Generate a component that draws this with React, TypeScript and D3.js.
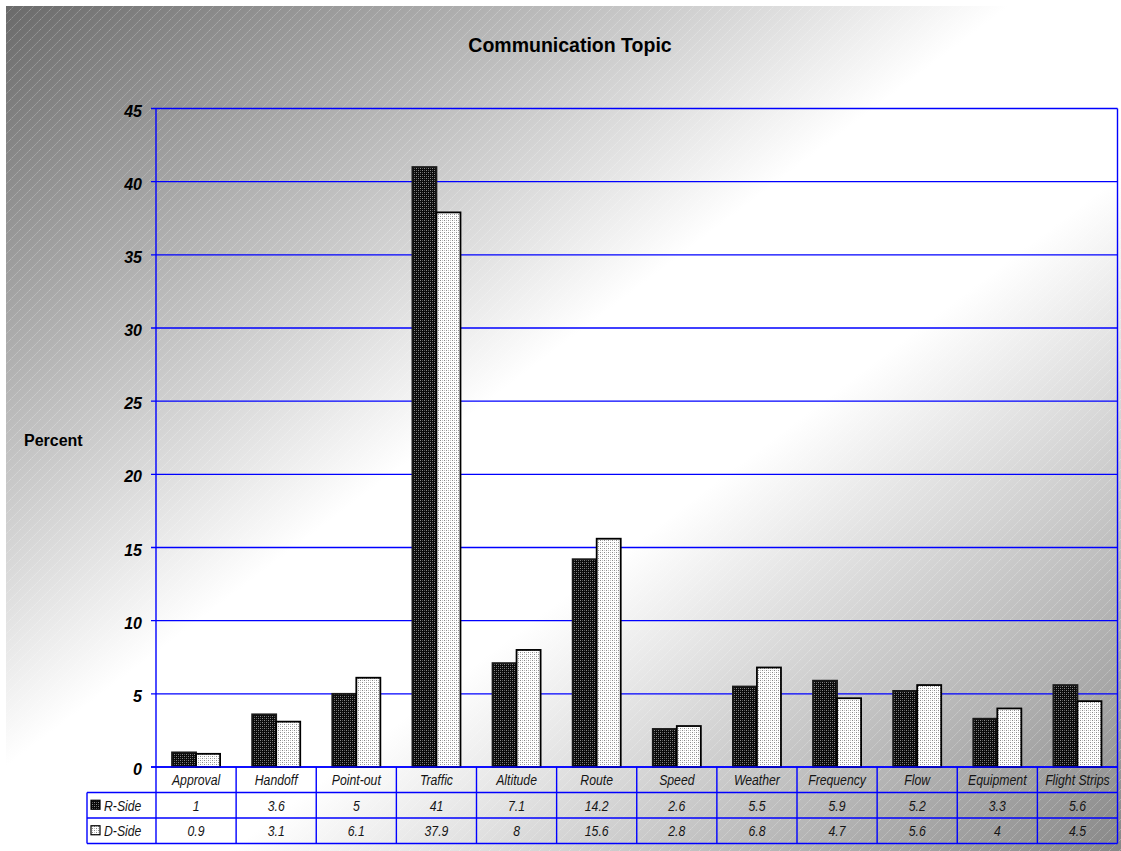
import React from "react";
import * as d3 from "d3";

// Communication topic shares (percent) for R-Side and D-Side controllers
const categories = [
  "Approval", "Handoff", "Point-out", "Traffic", "Altitude", "Route",
  "Speed", "Weather", "Frequency", "Flow", "Equipment", "Flight Strips",
];
const rSide = [1, 3.6, 5, 41, 7.1, 14.2, 2.6, 5.5, 5.9, 5.2, 3.3, 5.6];
const dSide = [0.9, 3.1, 6.1, 37.9, 8, 15.6, 2.8, 6.8, 4.7, 5.6, 4, 4.5];
const seriesNames = ["R-Side", "D-Side"];
const yTicks = [0, 5, 10, 15, 20, 25, 30, 35, 40, 45];

const W = 1121;
const H = 851;
const plot = { left: 156, right: 1117.5, top: 108.5, bottom: 767 };
const tableRows = { cat: 767, r: 792.5, d: 818, bottom: 843.5 };
const legendLeft = 87;
const BLUE = "#0000ff";
const SANS = "'Liberation Sans', Arial, Helvetica, sans-serif";
// table text is set in a condensed face: regular sans squeezed horizontally
const CONDENSE = 0.79;

function NarrowText(props: { x: number; y: number; anchor?: string; children: React.ReactNode }) {
  return (
    <text
      transform={`translate(${props.x},${props.y}) scale(${CONDENSE},1)`}
      textAnchor={props.anchor ?? "middle"}
      fontFamily={SANS}
      fontStyle="italic"
      fontSize={15.5}
      fill="#151515"
    >
      {props.children}
    </text>
  );
}

export default function App() {
  const x = d3
    .scaleBand<string>()
    .domain(categories)
    .range([plot.left, plot.right])
    .paddingInner(0.4)
    .paddingOuter(0.2);
  const xSeries = d3.scaleBand<string>().domain(seriesNames).range([0, x.bandwidth()]);
  const y = d3.scaleLinear().domain([0, 45]).range([plot.bottom, plot.top]);
  const step = x.step();
  const colEdges = d3.range(categories.length + 1).map((i) => plot.left + i * step);

  const series = [
    { name: "R-Side", values: rSide, fill: "url(#darkDots)", stroke: "#1a1a1a" },
    { name: "D-Side", values: dSide, fill: "url(#lightDots)", stroke: "#000" },
  ];

  const rowMid = [
    (tableRows.cat + tableRows.r) / 2,
    (tableRows.r + tableRows.d) / 2,
    (tableRows.d + tableRows.bottom) / 2,
  ];

  return (
    <svg
      width={W}
      height={H}
      style={{ position: "absolute", left: 0, top: 0, display: "block" }}
    >
      <defs>
        <linearGradient id="bgGrad" x1="0" y1="0" x2="1" y2="1">
          <stop offset="0" stopColor="#6a6a6a" />
          <stop offset="0.45" stopColor="#ffffff" />
          <stop offset="0.6" stopColor="#ffffff" />
          <stop offset="1" stopColor="#888888" />
        </linearGradient>
        <pattern id="stripes" width="10" height="10" patternUnits="userSpaceOnUse">
          <line x1="0" y1="10" x2="10" y2="0" stroke="#ffffff" strokeOpacity="0.28" strokeWidth="1" strokeDasharray="2 1" />
          <line x1="-5" y1="5" x2="5" y2="-5" stroke="#ffffff" strokeOpacity="0.28" strokeWidth="1" strokeDasharray="2 1" />
          <line x1="5" y1="15" x2="15" y2="5" stroke="#ffffff" strokeOpacity="0.28" strokeWidth="1" strokeDasharray="2 1" />
        </pattern>
        <pattern id="darkDots" width="4" height="4" patternUnits="userSpaceOnUse">
          <rect width="4" height="4" fill="#0a0a0a" />
          <rect x="0" y="0" width="1" height="1" fill="#8a8a8a" />
          <rect x="2" y="2" width="1" height="1" fill="#8a8a8a" />
          <rect x="2" y="0" width="1" height="1" fill="#555" />
          <rect x="0" y="2" width="1" height="1" fill="#555" />
        </pattern>
        <pattern id="lightDots" width="4" height="4" patternUnits="userSpaceOnUse">
          <rect width="4" height="4" fill="#ffffff" />
          <rect x="0" y="0" width="1" height="1" fill="#8a8a8a" />
          <rect x="2" y="2" width="1" height="1" fill="#8a8a8a" />
          <rect x="2" y="0" width="1" height="1" fill="#c4c4c4" />
          <rect x="0" y="2" width="1" height="1" fill="#c4c4c4" />
        </pattern>
      </defs>

      <rect x={0} y={0} width={W} height={H} fill="#ffffff" />
      <rect x={6} y={6} width={W - 6} height={H - 6} fill="url(#bgGrad)" />
      <rect x={6} y={6} width={W - 6} height={H - 6} fill="url(#stripes)" />

      {/* Title and axis title */}
      <text x={570} y={52} textAnchor="middle" fontFamily={SANS} fontWeight="bold" fontSize={19.5} fill="#000">
        Communication Topic
      </text>
      <text x={24} y={446} fontFamily={SANS} fontWeight="bold" fontSize={16} fill="#000">
        Percent
      </text>

      {/* Gridlines, ticks and tick labels */}
      {yTicks.map((t) => (
        <g key={t}>
          <line x1={plot.left - 5} x2={plot.right} y1={y(t)} y2={y(t)} stroke={BLUE} strokeWidth={1.4} />
          <text
            x={142}
            y={y(t) + 8}
            textAnchor="end"
            fontFamily={SANS}
            fontWeight="bold"
            fontStyle="italic"
            fontSize={16}
            fill="#000"
          >
            {t}
          </text>
        </g>
      ))}
      <line x1={plot.left} x2={plot.left} y1={plot.top} y2={tableRows.bottom} stroke={BLUE} strokeWidth={1.4} />
      <line x1={plot.right} x2={plot.right} y1={plot.top} y2={tableRows.bottom} stroke={BLUE} strokeWidth={1.4} />

      {/* Bars */}
      {series.map((s) => (
        <g key={s.name}>
          {s.values.map((v, i) => {
            const bx = (x(categories[i]) ?? 0) + (xSeries(s.name) ?? 0);
            return (
              <rect
                key={i}
                x={bx}
                y={y(v)}
                width={xSeries.bandwidth()}
                height={y(0) - y(v)}
                fill={s.fill}
                stroke={s.stroke}
                strokeWidth={1.8}
              />
            );
          })}
        </g>
      ))}

      {/* Zero line drawn over bar bottoms */}
      <line x1={plot.left - 5} x2={plot.right} y1={y(0)} y2={y(0)} stroke={BLUE} strokeWidth={1.6} />

      {/* Data table */}
      {[tableRows.r, tableRows.d, tableRows.bottom].map((ry) => (
        <line key={ry} x1={legendLeft} x2={plot.right} y1={ry} y2={ry} stroke={BLUE} strokeWidth={1.4} />
      ))}
      <line x1={legendLeft} x2={legendLeft} y1={tableRows.r} y2={tableRows.bottom} stroke={BLUE} strokeWidth={1.4} />
      {colEdges.slice(1, -1).map((cx) => (
        <line key={cx} x1={cx} x2={cx} y1={tableRows.cat} y2={tableRows.bottom} stroke={BLUE} strokeWidth={1.4} />
      ))}

      {categories.map((c, i) => {
        const cx = colEdges[i] + step / 2;
        return (
          <g key={c}>
            <NarrowText x={cx} y={rowMid[0] + 5.5}>{c}</NarrowText>
            <NarrowText x={cx} y={rowMid[1] + 5.5}>{rSide[i]}</NarrowText>
            <NarrowText x={cx} y={rowMid[2] + 5.5}>{dSide[i]}</NarrowText>
          </g>
        );
      })}

      {series.map((s, k) => (
        <g key={s.name}>
          <rect x={91} y={rowMid[k + 1] - 5} width={9} height={9} fill={s.fill} stroke="#000" strokeWidth={1.2} />
          <NarrowText x={104} y={rowMid[k + 1] + 5.5} anchor="start">
            {s.name}
          </NarrowText>
        </g>
      ))}
    </svg>
  );
}
